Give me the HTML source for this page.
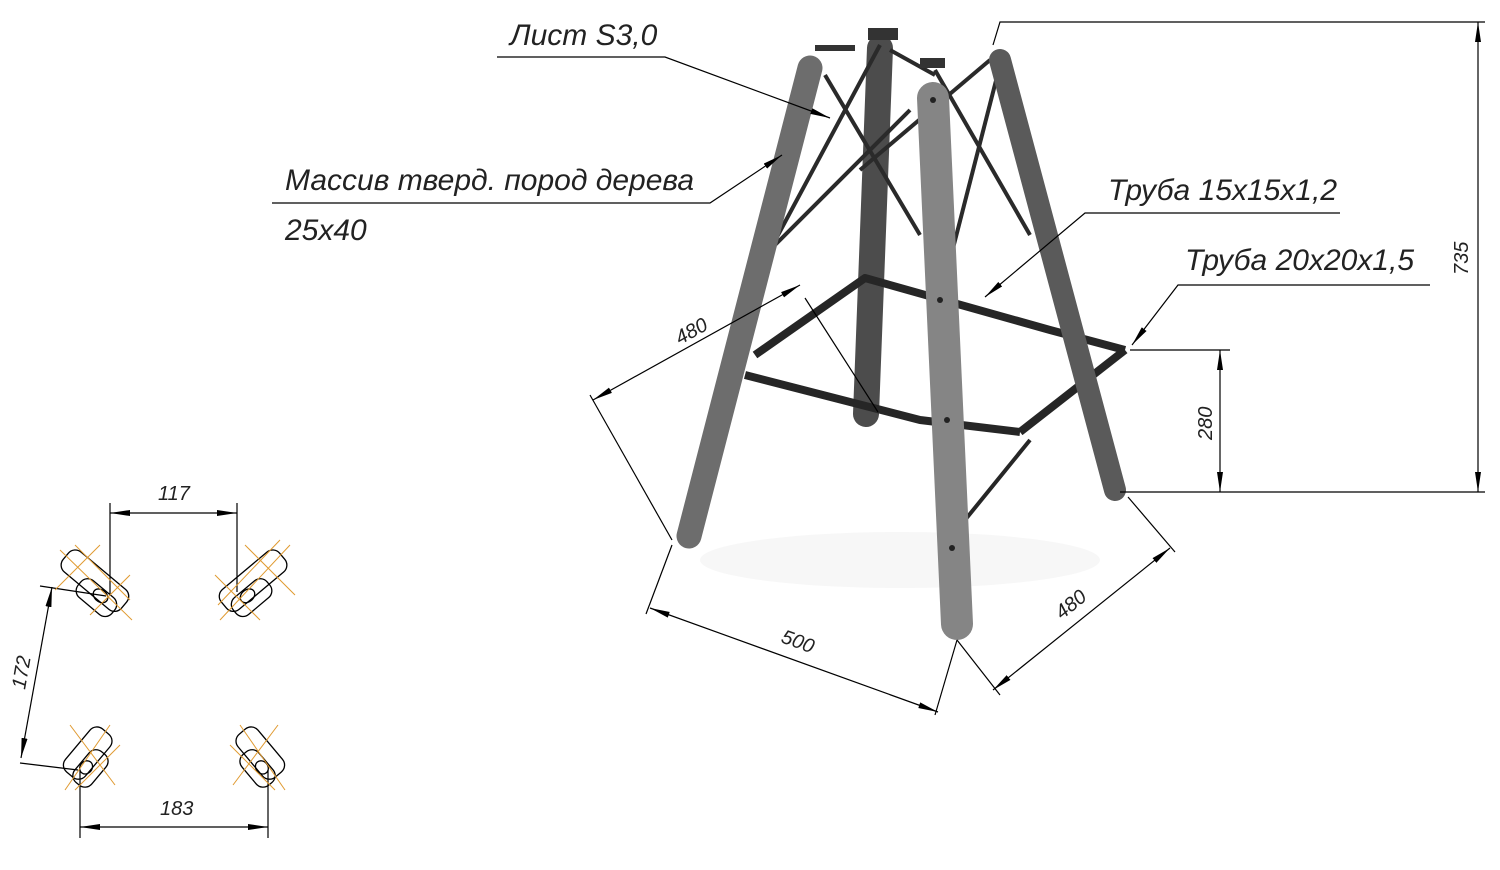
<!DOCTYPE html>
<html><head><meta charset="utf-8"><style>
html,body{margin:0;padding:0;background:#fff;}
svg{display:block}
text{font-family:"Liberation Sans","DejaVu Sans",sans-serif;font-style:italic;fill:#222;}
</style></head><body>
<svg width="1500" height="870" viewBox="0 0 1500 870" xmlns="http://www.w3.org/2000/svg">
<defs>
<marker id="a" viewBox="0 0 20 8" refX="20" refY="4" markerWidth="20" markerHeight="8" orient="auto" markerUnits="userSpaceOnUse"><path d="M0,1 L20,4 L0,7 Z" fill="#000"/></marker>
<marker id="b" viewBox="0 0 20 8" refX="0" refY="4" markerWidth="20" markerHeight="8" orient="auto" markerUnits="userSpaceOnUse"><path d="M20,1 L0,4 L20,7 Z" fill="#000"/></marker>
</defs>

<ellipse cx="900" cy="560" rx="200" ry="28" fill="#f7f7f7"/>

<!-- back center leg -->
<line x1="880" y1="48" x2="866" y2="414" stroke="#4c4c4c" stroke-width="26" stroke-linecap="round"/>
<g stroke="#2a2a2a" stroke-width="4" fill="none">
<line x1="825" y1="75" x2="920" y2="235"/>
<line x1="880" y1="45" x2="770" y2="250"/>
<line x1="935" y1="70" x2="1030" y2="235"/>
<line x1="990" y1="60" x2="860" y2="170"/>
<line x1="770" y1="250" x2="910" y2="110"/>
<line x1="1000" y1="65" x2="950" y2="260"/>
<line x1="890" y1="50" x2="935" y2="75"/>
</g>
<g stroke="#262626" stroke-width="8" fill="none" stroke-linejoin="round">
<polyline points="745,375 920,420 1020,432"/>
<polyline points="755,355 865,278 1050,330 1125,350"/>
<polyline points="1125,350 1020,432"/>
<line x1="1030" y1="440" x2="965" y2="520" stroke-width="4"/>
</g>
<!-- left leg -->
<line x1="810" y1="68" x2="689" y2="536" stroke="#6d6d6d" stroke-width="25" stroke-linecap="round"/>
<!-- right leg -->
<line x1="1000" y1="60" x2="1115" y2="490" stroke="#5a5a5a" stroke-width="22" stroke-linecap="round"/>
<!-- front leg -->
<line x1="933" y1="98" x2="957" y2="624" stroke="#858585" stroke-width="32" stroke-linecap="round"/>
<g fill="#333">
<rect x="868" y="28" width="30" height="12"/>
<rect x="920" y="58" width="25" height="10"/>
<rect x="815" y="45" width="40" height="6"/>
</g>
<g fill="#222">
<circle cx="933" cy="100" r="3"/><circle cx="940" cy="300" r="3"/><circle cx="947" cy="420" r="3"/><circle cx="952" cy="548" r="3"/>
</g>

<g stroke="#000" stroke-width="1.2" fill="none">
<polyline points="497,57 665,57 830,118" marker-end="url(#a)"/>
<polyline points="272,203 710,203 782,155" marker-end="url(#a)"/>
<polyline points="1340,213 1085,213 985,297" marker-end="url(#a)"/>
<polyline points="1430,285 1178,285 1132,345" marker-end="url(#a)"/>
<polyline points="993,45 1000,22 1485,22"/>
<line x1="1120" y1="492" x2="1485" y2="492"/>
<line x1="1478" y1="22" x2="1478" y2="492" marker-start="url(#b)" marker-end="url(#a)"/>
<line x1="1130" y1="350" x2="1230" y2="350"/>
<line x1="1220" y1="350" x2="1220" y2="492" marker-start="url(#b)" marker-end="url(#a)"/>
<line x1="672" y1="540" x2="590" y2="395"/>
<line x1="805" y1="298" x2="878" y2="412"/>
<line x1="593" y1="400" x2="800" y2="285" marker-start="url(#b)" marker-end="url(#a)"/>
<line x1="672" y1="545" x2="646" y2="614"/>
<line x1="957" y1="640" x2="935" y2="715"/>
<line x1="650" y1="608" x2="938" y2="712" marker-start="url(#b)" marker-end="url(#a)"/>
<line x1="1128" y1="497" x2="1175" y2="552"/>
<line x1="957" y1="640" x2="1000" y2="695"/>
<line x1="993" y1="690" x2="1170" y2="548" marker-start="url(#b)" marker-end="url(#a)"/>
</g>
<text x="510" y="45" font-size="30">Лист S3,0</text>
<text x="285" y="190" font-size="30">Массив тверд. пород дерева</text>
<text x="285" y="240" font-size="30">25x40</text>
<text x="1108" y="200" font-size="30">Труба 15x15x1,2</text>
<text x="1185" y="270" font-size="30">Труба 20x20x1,5</text>
<text font-size="20" transform="translate(1468,275) rotate(-90)">735</text>
<text font-size="20" transform="translate(1212,440) rotate(-90)">280</text>
<text font-size="20" transform="translate(680,345) rotate(-29)">480</text>
<text font-size="20" transform="translate(780,642) rotate(20)">500</text>
<text font-size="20" transform="translate(1062,620) rotate(-39)">480</text>

<g stroke="#000" stroke-width="1.2" fill="none">
<line x1="110" y1="503" x2="110" y2="595"/>
<line x1="237" y1="503" x2="237" y2="592"/>
<line x1="110" y1="513" x2="237" y2="513" marker-start="url(#b)" marker-end="url(#a)"/>
<line x1="80" y1="770" x2="80" y2="838"/>
<line x1="268" y1="770" x2="268" y2="838"/>
<line x1="80" y1="827" x2="268" y2="827" marker-start="url(#b)" marker-end="url(#a)"/>
<line x1="40" y1="586" x2="106" y2="596"/>
<line x1="20" y1="763" x2="78" y2="770"/>
<line x1="21" y1="758" x2="52" y2="587" marker-start="url(#b)" marker-end="url(#a)"/>
</g>
<text x="158" y="500" font-size="20">117</text>
<text x="160" y="815" font-size="20">183</text>
<text font-size="20" transform="translate(25,690) rotate(-80)">172</text>

<g stroke="#000" stroke-width="1.3" fill="none">
<g transform="translate(93,583) rotate(40)">
<rect x="-38" y="-16" width="76" height="26" rx="9"/><rect x="-10" y="-2" width="44" height="22" rx="9"/><ellipse cx="14" cy="5" rx="8" ry="6"/>
</g>
<g transform="translate(255,583) rotate(-40)">
<rect x="-38" y="-16" width="76" height="26" rx="9"/><rect x="-34" y="-2" width="44" height="22" rx="9"/><ellipse cx="-14" cy="5" rx="8" ry="6"/>
</g>
<g transform="translate(90,755) rotate(-50)">
<rect x="-28" y="-16" width="56" height="26" rx="9"/><rect x="-30" y="-2" width="40" height="22" rx="9"/><ellipse cx="-12" cy="5" rx="7" ry="6"/>
</g>
<g transform="translate(258,755) rotate(50)">
<rect x="-28" y="-16" width="56" height="26" rx="9"/><rect x="-10" y="-2" width="40" height="22" rx="9"/><ellipse cx="12" cy="5" rx="7" ry="6"/>
</g>
</g>
<g stroke="#e09a30" stroke-width="1" fill="none">
<line x1="60" y1="550" x2="132" y2="620"/><line x1="75" y1="545" x2="130" y2="600"/><line x1="55" y1="590" x2="100" y2="545"/><line x1="90" y1="615" x2="130" y2="575"/>
<line x1="290" y1="545" x2="220" y2="620"/><line x1="280" y1="540" x2="218" y2="605"/><line x1="245" y1="545" x2="295" y2="595"/><line x1="215" y1="575" x2="260" y2="620"/>
<line x1="70" y1="725" x2="115" y2="785"/><line x1="110" y1="725" x2="65" y2="790"/><line x1="120" y1="745" x2="75" y2="790"/>
<line x1="278" y1="725" x2="233" y2="785"/><line x1="240" y1="725" x2="285" y2="790"/><line x1="230" y1="745" x2="275" y2="790"/>
</g>
</svg>
</body></html>
